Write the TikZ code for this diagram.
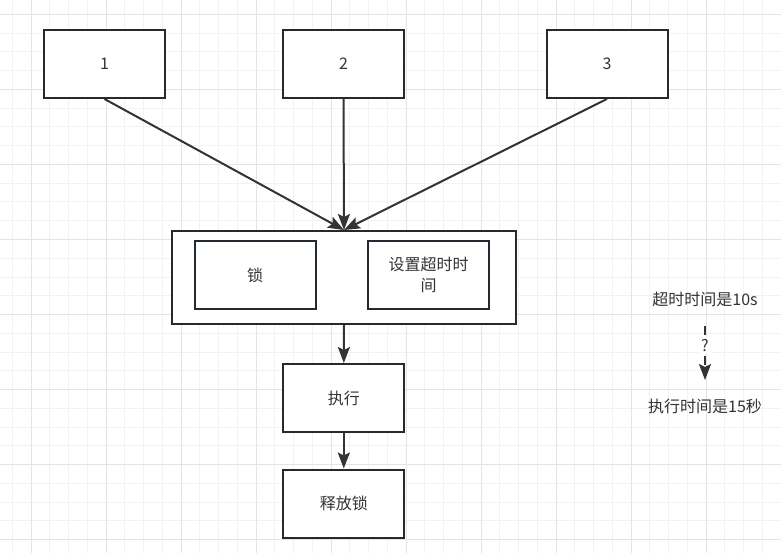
\documentclass[tikz,border=0pt]{standalone}
\usepackage{fontspec}
\setmainfont{Noto Sans CJK SC}
\usetikzlibrary{arrows.meta}
\definecolor{gridminor}{HTML}{F2F2F2}
\definecolor{gridmajor}{HTML}{E4E4E4}
\definecolor{boxline}{HTML}{232A31}
\definecolor{arrline}{HTML}{333333}
\definecolor{txtcol}{HTML}{333333}
\tikzset{
  box/.style={draw=boxline, line width=2pt, fill=white, minimum width=121pt, minimum height=68pt, inner sep=0pt, text=txtcol, font=\fontsize{16}{21}\selectfont, align=center},
  container/.style={draw=boxline, line width=2pt, fill=white, minimum width=344pt, minimum height=93pt, inner sep=0pt},
  txt/.style={inner sep=0pt, text=txtcol, font=\fontsize{16}{21}\selectfont},
  arr/.style={draw=arrline, line width=2pt, -{Stealth[length=16pt, width=12pt, inset=3pt]}},
  dashedarr/.style={arr, dash pattern=on 9pt off 6pt},
  qlabel/.style={fill=white, inner sep=2pt, text=txtcol, font=\fontsize{16}{21}\selectfont}
}
\begin{document}
\begin{tikzpicture}[x=1pt, y=-1pt]
\useasboundingbox (0,0) rectangle (781,553);
\fill[white] (0,0) rectangle (781,553);
% grid
\foreach \i in {0,...,41} {
  \pgfmathsetmacro{\gx}{12.25+18.75*\i}
  \draw[gridminor, line width=1pt] (\gx,0) -- (\gx,553);
}
\foreach \i in {0,...,30} {
  \pgfmathsetmacro{\gy}{-4.25+18.75*\i}
  \draw[gridminor, line width=1pt] (0,\gy) -- (781,\gy);
}
\foreach \i in {0,...,10} {
  \pgfmathsetmacro{\gx}{31+75*\i}
  \draw[gridmajor, line width=1pt] (\gx,0) -- (\gx,553);
}
\foreach \i in {0,...,7} {
  \pgfmathsetmacro{\gy}{14.5+75*\i}
  \draw[gridmajor, line width=1pt] (0,\gy) -- (781,\gy);
}
% boxes
\node[box] (b1) at (104.5,64) {1};
\node[box] (b2) at (343.5,64) {2};
\node[box] (b3) at (607,64) {3};
\node[container] (c) at (344,277.5) {};
\node[box] (lock) at (255.2,275.2) {锁};
\node[box] (timeout) at (428.5,275.2) {设置超时时\\间};
\node[box] (exec) at (343.8,398) {执行};
\node[box] (rel) at (343.8,503.5) {释放锁};
% arrows
\draw[arr] (b1.south) -- (c.north);
\draw[arr] (b2.south) -- (c.north);
\draw[arr] (b3.south) -- (c.north);
\draw[arr] (c.south) -- (exec.north);
\draw[arr] (exec.south) -- (rel.north);
% right side
\node[txt, anchor=base] (t1) at (705,305.5) {超时时间是10s};
\node[txt, anchor=base] (t2) at (705,412.5) {执行时间是15秒};
\draw[dashedarr, shorten <=20.5pt, shorten >=32.5pt] (t1.base) -- (t2.base) node[qlabel, pos=0.37] {?};
\end{tikzpicture}
\end{document}
